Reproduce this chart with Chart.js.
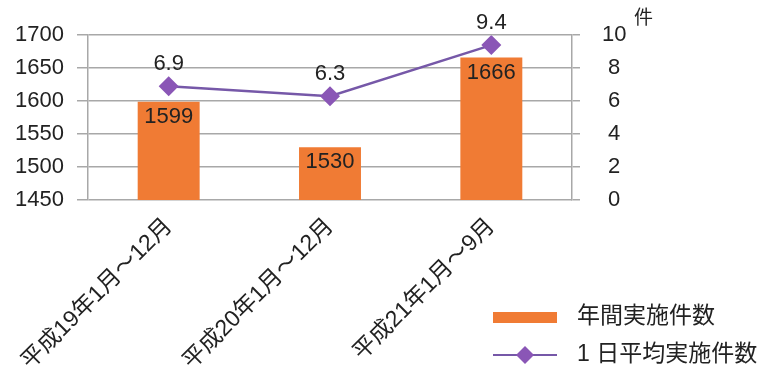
<!DOCTYPE html>
<html>
<head>
<meta charset="utf-8">
<script src="https://cdn.jsdelivr.net/npm/chart.js@4"></script>
<style>
  html, body { margin: 0; padding: 0; background: #fff; }
  #wrap { position: relative; width: 781px; height: 370px; }
</style>
</head>
<body>
<div id="wrap"><canvas id="chart"></canvas></div>
<script>
// data
const categories = ['平成19年1月～12月', '平成20年1月～12月', '平成21年1月～9月'];
const annualCounts = [1599, 1530, 1666];
const dailyAverages = [6.9, 6.3, 9.4];
const leftTicks = [1450, 1500, 1550, 1600, 1650, 1700];
const rightTicks = [0, 2, 4, 6, 8, 10];
const seriesNames = ['年間実施件数', '1日平均実施件数'];
const rightUnit = '件';

const FONT = "'Liberation Sans', 'Noto Sans CJK JP', sans-serif";
const ORANGE = '#f07b34';
const PURPLE = '#7658a8';
const DIAMOND = '#8a56b6';
const GRID = '#a8a8a8';
const TEXT = '#222222';

// value labels, legend and unit text
const labelPlugin = {
  id: 'labels',
  afterDatasetsDraw(chart) {
    const ctx = chart.ctx;
    ctx.save();
    ctx.fillStyle = TEXT;
    ctx.textAlign = 'center';
    ctx.font = '22px ' + FONT;
    // dataset 1 = bars, dataset 0 = line
    chart.getDatasetMeta(1).data.forEach((bar, i) => {
      ctx.textBaseline = 'top';
      ctx.fillText(String(annualCounts[i]), bar.x, bar.y + 4);
    });
    chart.getDatasetMeta(0).data.forEach((pt, i) => {
      ctx.textBaseline = 'bottom';
      ctx.fillText(dailyAverages[i].toFixed(1), pt.x, pt.y - 11);
    });

    // unit over right axis
    ctx.textAlign = 'left';
    ctx.textBaseline = 'top';
    ctx.font = "19px 'Noto Sans CJK JP', sans-serif";
    ctx.fillText(rightUnit, 634, 7);

    // legend
    ctx.font = '23px ' + FONT;
    ctx.textBaseline = 'middle';
    ctx.fillStyle = ORANGE;
    ctx.fillRect(493, 312, 64, 11);
    ctx.fillStyle = TEXT;
    ctx.fillText(seriesNames[0], 577, 317);

    ctx.strokeStyle = PURPLE;
    ctx.lineWidth = 2;
    ctx.beginPath();
    ctx.moveTo(493, 355);
    ctx.lineTo(557, 355);
    ctx.stroke();
    ctx.fillStyle = DIAMOND;
    ctx.beginPath();
    ctx.moveTo(525, 346);
    ctx.lineTo(534, 355);
    ctx.lineTo(525, 364);
    ctx.lineTo(516, 355);
    ctx.closePath();
    ctx.fill();
    ctx.fillStyle = TEXT;
    ctx.fillText(seriesNames[1].replace('1', '1 '), 577, 355);
    ctx.restore();
  }
};

new Chart(document.getElementById('chart'), {
  data: {
    labels: categories,
    datasets: [
      {
        type: 'line',
        label: seriesNames[1],
        data: dailyAverages,
        yAxisID: 'y1',
        borderColor: PURPLE,
        borderWidth: 2.5,
        pointStyle: 'rectRot',
        pointRadius: 10,
        pointBackgroundColor: DIAMOND,
        pointBorderColor: DIAMOND,
        pointBorderWidth: 0,
        tension: 0,
        order: 0
      },
      {
        type: 'bar',
        label: seriesNames[0],
        data: annualCounts,
        yAxisID: 'y',
        backgroundColor: ORANGE,
        categoryPercentage: 0.8,
        barPercentage: 0.48,
        order: 1
      }
    ]
  },
  options: {
    responsive: true,
    maintainAspectRatio: false,
    animation: false,
    events: [],
    layout: { padding: { left: 0, right: 0, top: 35, bottom: 0 } },
    plugins: {
      legend: { display: false },
      tooltip: { enabled: false }
    },
    scales: {
      x: {
        grid: { display: false },
        border: { display: false },
        ticks: {
          color: TEXT,
          font: { family: FONT, size: 23 },
          minRotation: 45,
          maxRotation: 45,
          padding: 5
        },
        afterFit: (scale) => { scale.height = 170; }
      },
      y: {
        position: 'left',
        min: leftTicks[0],
        max: leftTicks[leftTicks.length - 1],
        afterBuildTicks: (scale) => { scale.ticks = leftTicks.map(v => ({ value: v })); },
        grid: { color: GRID, lineWidth: 1.5, tickLength: 11, tickColor: GRID },
        border: { display: true, color: GRID, width: 1.5 },
        ticks: {
          color: TEXT,
          font: { family: FONT, size: 22 },
          padding: 13,
          callback: (v) => String(v)
        },
        afterFit: (scale) => { scale.width = 88; }
      },
      y1: {
        position: 'right',
        min: rightTicks[0],
        max: rightTicks[rightTicks.length - 1],
        afterBuildTicks: (scale) => { scale.ticks = rightTicks.map(v => ({ value: v })); },
        grid: { drawOnChartArea: false, color: GRID, lineWidth: 1.5, tickLength: 8, tickColor: GRID },
        border: { display: true, color: GRID, width: 1.5 },
        ticks: {
          color: TEXT,
          font: { family: FONT, size: 22 },
          padding: 22,
          crossAlign: 'center',
          callback: (v) => String(v)
        },
        afterFit: (scale) => { scale.width = 209; }
      }
    }
  },
  plugins: [labelPlugin]
});
</script>
</body>
</html>
